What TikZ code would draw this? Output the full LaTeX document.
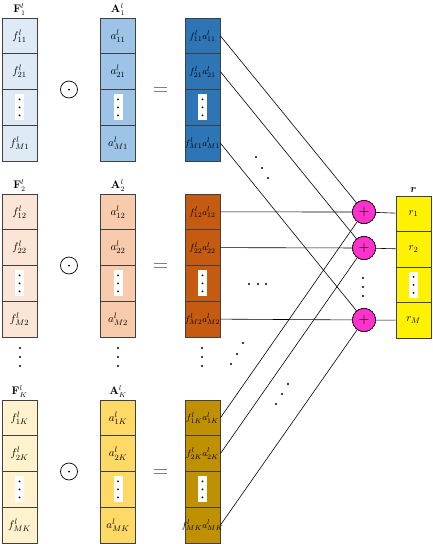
\documentclass[tikz,border=0pt]{standalone}
\usepackage{amsmath,bm}
\usetikzlibrary{calc}
\definecolor{bluel}{HTML}{DEEBF7}
\definecolor{bluem}{HTML}{9DC3E6}
\definecolor{blued}{HTML}{2E75B6}
\definecolor{orangel}{HTML}{FBE5D6}
\definecolor{orangem}{HTML}{F8CBAD}
\definecolor{oranged}{HTML}{C55A11}
\definecolor{goldl}{HTML}{FFF2CC}
\definecolor{goldm}{HTML}{FFD966}
\definecolor{goldd}{HTML}{BF9000}
\definecolor{sumcol}{HTML}{FF33CC}
\tikzset{
  cell/.style = {draw=black!75, line width=0.8pt, minimum width=35pt,
    minimum height=35.75pt, inner sep=0pt, font=\fontsize{11}{12}\selectfont},
  prodcell/.style = {cell, font=\fontsize{9.5}{10}\selectfont},
  adder/.style = {circle, draw, fill=sumcol, minimum size=23pt, inner sep=0pt,
    font=\Large},
  link/.style = {line width=0.6pt},
  collabel/.style = {anchor=south, inner sep=1pt, font=\fontsize{10.5}{11}\selectfont},
  dotbox/.pic = {
    \fill[white] (-4.5,-13) rectangle (4.5,13);
    \foreach \d in {-8,0,8} \fill[black] (0,\d) circle (1);
  }
}
\newcommand{\dotat}[1]{\fill #1 circle (1.1);}
\newcommand{\tight}[1]{\makebox[0pt]{#1}}

\begin{document}
\begin{tikzpicture}[x=1pt,y=-1pt]
  \useasboundingbox (0,0) rectangle (432,544);
  % three groups: F column, A column, product column
  \foreach \g/\top/\s/\cf/\ca/\cp in {1/18/1/bluel/bluem/blued,
      2/194/2/orangel/orangem/oranged, 3/400/K/goldl/goldm/goldd}{
    \pgfmathsetmacro{\ymid}{\top+71.5}
    % column labels
    \node[collabel] (Flab-\g) at (19.5,\top-1.5) {$\mathbf{F}^l_{\s}$};
    \node[collabel] (Alab-\g) at (118,\top-1.5) {$\mathbf{A}^l_{\s}$};
    % cells with entries
    \foreach \i/\t in {1/1,2/2,4/M}{
      \pgfmathsetmacro{\y}{\top+17.875+35.75*(\i-1)}
      \node[cell,fill=\cf] (F-\g-\i) at (19.5,\y) {$f^l_{\t\s}$};
      \node[cell,fill=\ca] (A-\g-\i) at (118,\y) {$a^l_{\t\s}$};
      \node[prodcell,fill=\cp] (P-\g-\i) at (202.5,\y) {\tight{$f^l_{\t\s}a^l_{\t\s}$}};
    }
    % cells with dots
    \pgfmathsetmacro{\y}{\top+17.875+35.75*2}
    \node[cell,fill=\cf] (F-\g-3) at (19.5,\y) {};
    \node[cell,fill=\ca] (A-\g-3) at (118,\y) {};
    \node[cell,fill=\cp] (P-\g-3) at (202.5,\y) {};
    \pic at (F-\g-3) {dotbox};
    \pic at (A-\g-3) {dotbox};
    \pic at (P-\g-3) {dotbox};
    % odot and equals
    \node[circle,draw,line width=0.7pt,minimum size=17pt,inner sep=0pt] (odot-\g) at (69,\ymid) {};
    \fill (odot-\g) circle (1);
    \draw[gray,line width=1pt] (154,\ymid-1.8) -- (167,\ymid-1.8);
    \draw[gray,line width=1pt] (154,\ymid+1.8) -- (167,\ymid+1.8);
  }
  % vertical dots between groups
  \foreach \x in {20,118,202}
    \foreach \y in {348,357,366} \dotat{(\x,\y)}
  % adders
  \foreach \i/\y in {1/212,2/248,4/320}
    \node[adder] (plus-\i) at (364,\y) {$+$};
  % result column
  \node[collabel] (rlab) at (413.5,194) {$\bm{r}$};
  \foreach \i/\t in {1/1,2/2,4/M}{
    \pgfmathsetmacro{\y}{196+17.75+35.5*(\i-1)}
    \node[cell,fill=yellow,minimum height=35.5pt] (r-\i) at (413.5,\y) {$r_{\t}$};
  }
  \node[cell,fill=yellow,minimum height=35.5pt] (r-3) at (413.5,284.75) {};
  \pic at (r-3) {dotbox};
  % connections
  \foreach \i in {1,2,4}{
    \draw[link] (P-1-\i.east) -- (plus-\i);
    \draw[link] (P-2-\i.east) -- (plus-\i);
    \draw[link] (P-3-\i.east) -- (plus-\i);
    \draw[link] (plus-\i) -- (r-\i);
  }
  % dots between connections
  \dotat{(256,157)} \dotat{(262,168)} \dotat{(268,178)}
  \dotat{(249,284)} \dotat{(258,284)} \dotat{(266,284)}
  \dotat{(243,343)} \dotat{(237,354)} \dotat{(231,364)}
  \dotat{(288,384)} \dotat{(282,394)} \dotat{(276,404)}
  \dotat{(363,278)} \dotat{(363,287)} \dotat{(363,296)}
\end{tikzpicture}
\end{document}
